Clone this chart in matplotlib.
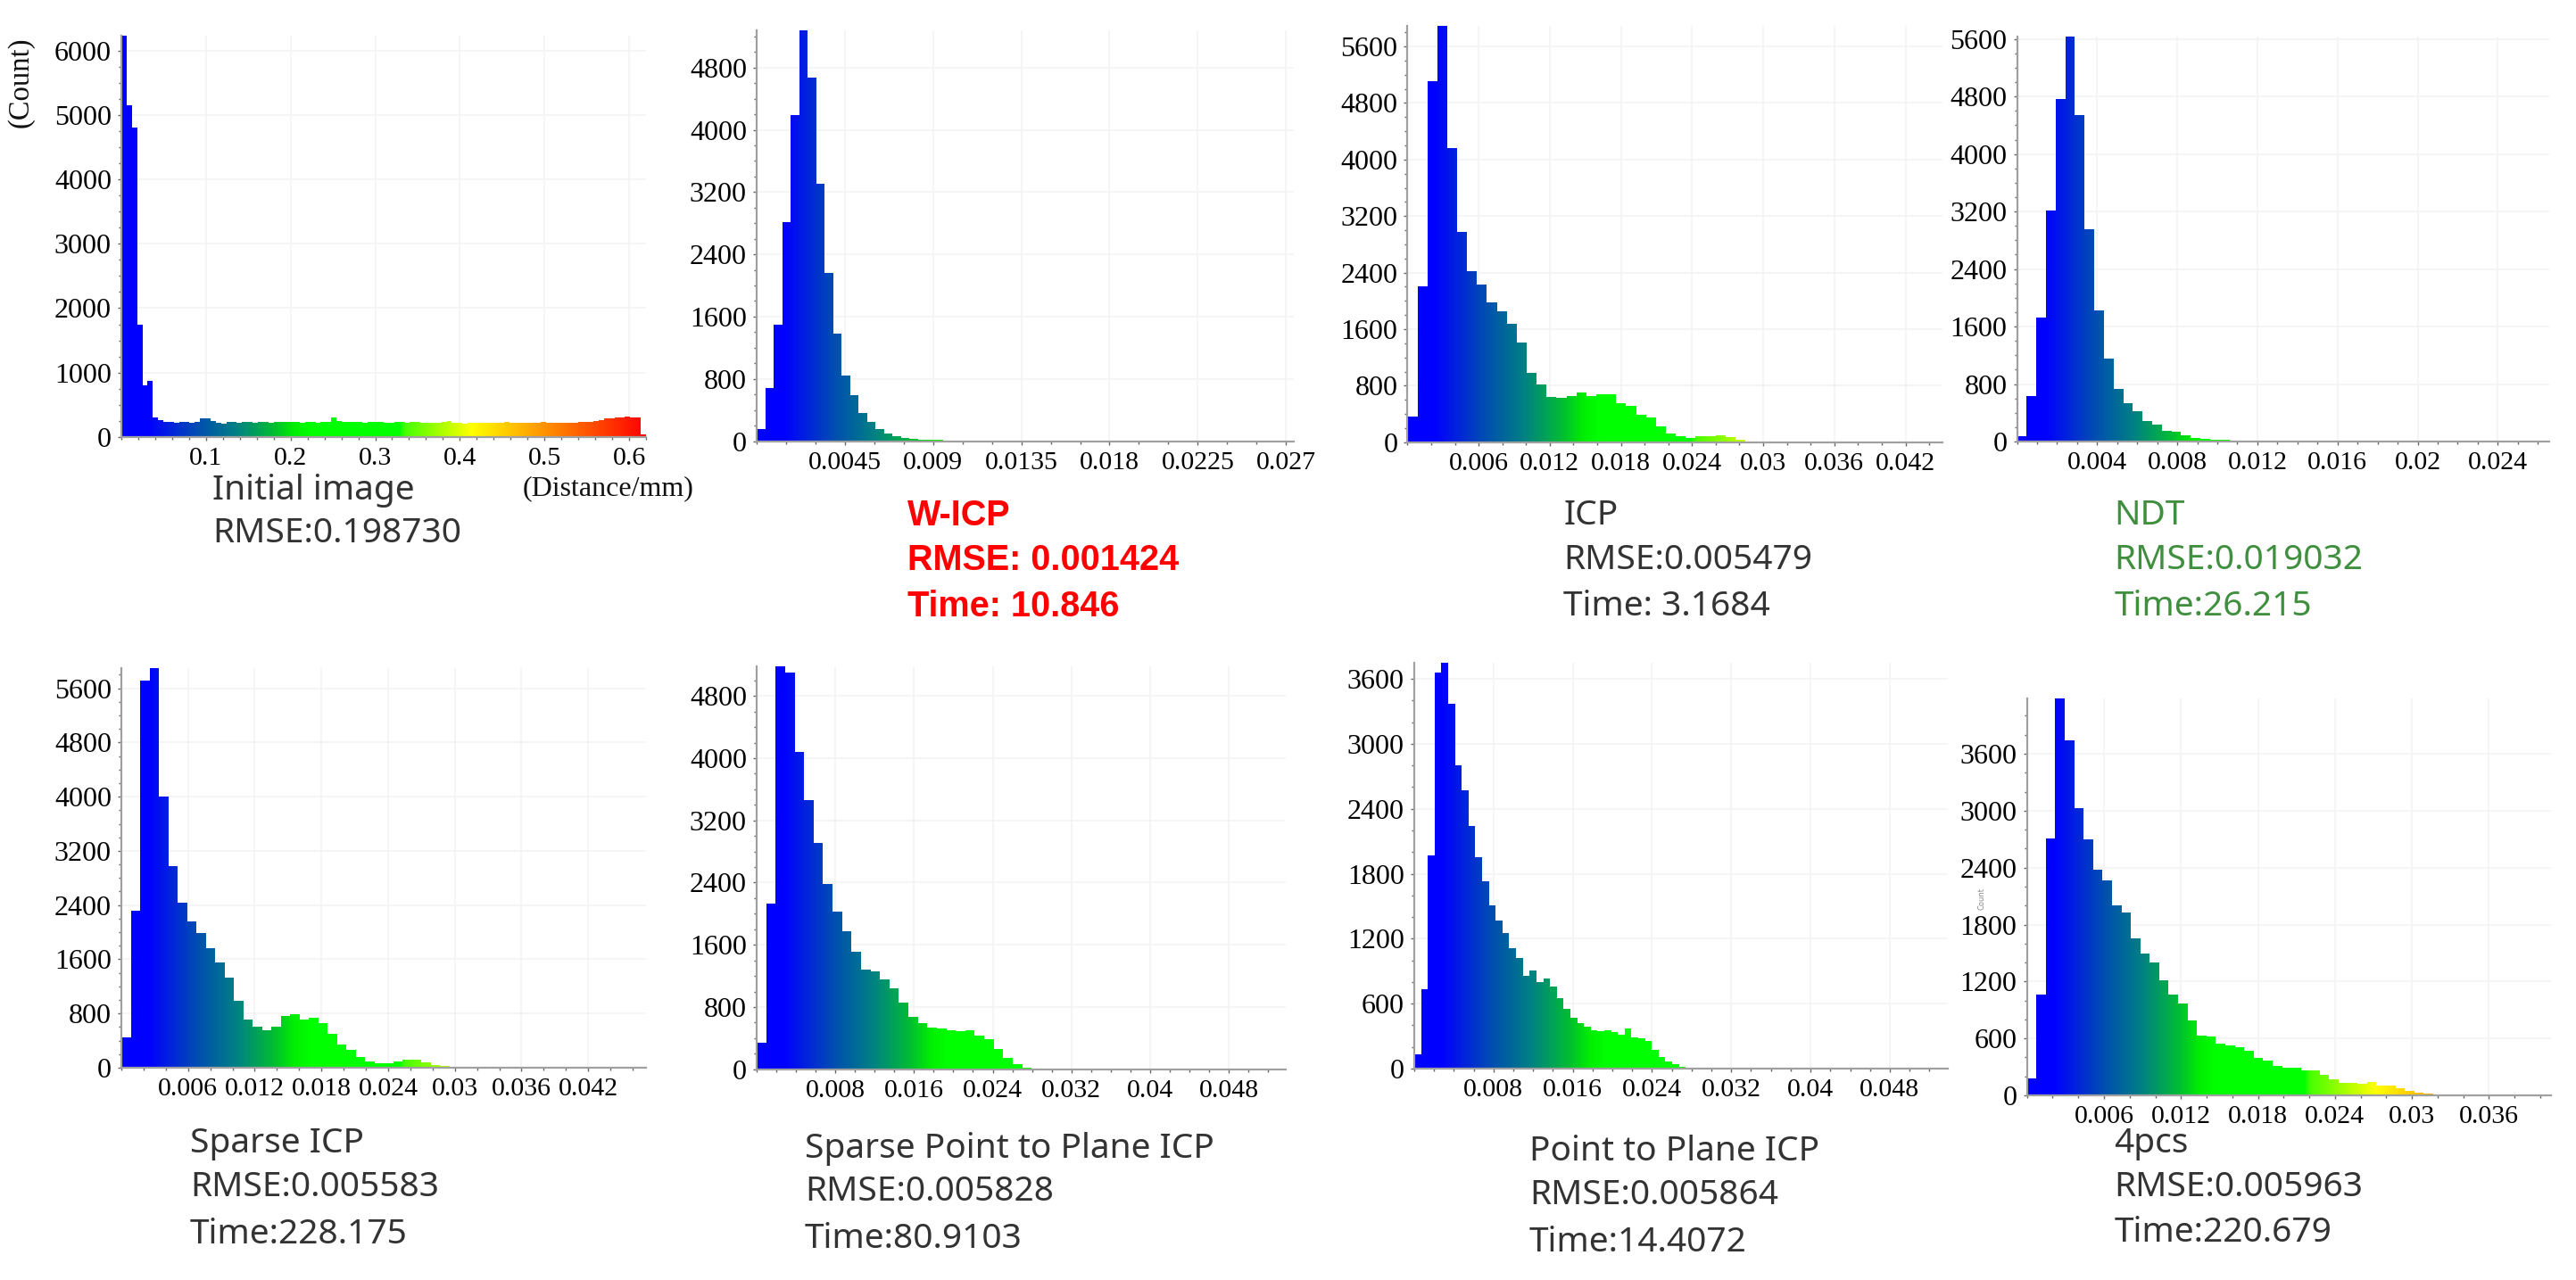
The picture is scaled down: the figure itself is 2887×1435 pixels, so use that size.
import matplotlib
matplotlib.use("Agg")
import numpy as np
import matplotlib.pyplot as plt
from matplotlib.colors import LinearSegmentedColormap
from matplotlib.ticker import AutoMinorLocator

W, H = 2887, 1435

initial_vals = [6225,5150,4800,1750,800,870,310,255,240,235,225,230,235,225,235,290,285,250,225,205,
                230,235,225,235,230,225,235,230,225,240,230,235,230,240,225,230,235,225,230,235,
                310,250,235,240,230,235,225,230,240,235,225,220,235,230,225,235,240,225,215,220,
                225,230,245,225,215,210,220,215,225,220,225,215,225,240,225,220,215,225,220,225,
                235,225,215,220,225,215,225,230,240,235,250,255,285,290,305,310,315,310,300,40]
wicp_vals = [158,684,1500,2816,4195,5284,4668,3305,2158,1384,842,590,363,247,158,100,63,37,25,20,
             16,13,11,9,8,7,6,5,5,4,4,4,3,3,3,3,3,3,3,3,3,3,3,3,3,3,3,3,3,3,3,3,3,3,3,3,3,3,3,3,3,3,3]
icp_vals = [365,2200,5113,5891,4163,2982,2426,2229,1980,1853,1673,1407,984,822,643,631,660,700,660,683,
            683,556,521,394,353,220,127,93,58,87,93,104,70,40,17,8,6,5,4,4,3,3,3,3,3,3,3,3,3,3,3,3,3,3]
ndt_vals = [80,638,1721,3219,4763,5630,4541,2957,1818,1157,729,530,422,285,234,154,131,91,51,40,
            28,23,17,14,12,10,9,8,7,6,6,5,5,4,4,4,3,3,3,3,3,3,3,3,3,3,3,3,3,3,3,3,3,3,3]
sparse_icp_vals = [444,2320,5713,5895,3999,2980,2440,2164,1985,1769,1553,1331,983,707,612,558,612,761,791,707,
                   731,659,498,348,264,162,90,60,60,90,120,114,78,42,24,12,8,6,5,4,4,3,3,3,3,3,3,3,3,3,3,3,3,3,3,3]
sparse_p2p_vals = [340,2128,5176,5098,4078,3461,2912,2384,2029,1778,1511,1281,1255,1156,1041,858,669,591,533,523,
                   507,486,497,429,392,261,146,68,26,8,6,5,4,4,3,3,3,3,3,3,3,3,3,3,3,3,3,3,3,3,3,3,3,3,3,3]
p2p_vals = [132,737,1971,3657,3750,3367,2803,2573,2238,1956,1730,1508,1369,1249,1110,1023,854,907,801,831,
            760,651,553,470,421,391,357,346,357,335,312,372,290,282,256,169,109,64,38,15,
            8,6,5,4,4,3,3,3,3,3,3,3,3,3,3,3,3,3,3,3,3,3,3,3,3,3,3,3,3,3,3,3,3,3,3,3,3,3]
fourpcs_vals = [176,1060,2703,4184,3737,3024,2698,2377,2261,2004,1927,1652,1493,1399,1210,1060,970,785,626,622,
                545,528,506,472,395,369,309,296,296,262,262,215,172,129,133,120,137,103,99,77,
                47,30,17,9,6,5,4,3,3,3,3,3,3,3,3]

panels = [
    dict(vals=initial_vals, bw=0.0062, xmax=0.62, ytop=6225, ymaj=1000, ymin=4, xmin=5,
         xt=[0.1,0.2,0.3,0.4,0.5,0.6], xl=["0.1","0.2","0.3","0.4","0.5","0.6"], box=(136,724,40.4,489.9)),
    dict(vals=wicp_vals, bw=0.000433, xmax=0.0274, ytop=5284, ymaj=800, ymin=4, xmin=3,
         xt=[0.0045,0.009,0.0135,0.018,0.0225,0.027], xl=["0.0045","0.009","0.0135","0.018","0.0225","0.027"], box=(848,1450,33.5,494.5)),
    dict(vals=icp_vals, bw=0.000838, xmax=0.0451, ytop=5891, ymaj=800, ymin=4, xmin=3,
         xt=[0.006,0.012,0.018,0.024,0.03,0.036,0.042], xl=["0.006","0.012","0.018","0.024","0.03","0.036","0.042"], box=(1577.4,2176.7,28.9,495.9)),
    dict(vals=ndt_vals, bw=0.000482, xmax=0.02657, ytop=5630, ymaj=800, ymin=4, xmin=4,
         xt=[0.004,0.008,0.012,0.016,0.02,0.024], xl=["0.004","0.008","0.012","0.016","0.02","0.024"], box=(2260.5,2857,41.3,495)),
    dict(vals=sparse_icp_vals, bw=0.000843, xmax=0.0472, ytop=5895, ymaj=800, ymin=4, xmin=3,
         xt=[0.006,0.012,0.018,0.024,0.03,0.036,0.042], xl=["0.006","0.012","0.018","0.024","0.03","0.036","0.042"], box=(136,724,749.2,1197)),
    dict(vals=sparse_p2p_vals, bw=0.000964, xmax=0.0538, ytop=5176, ymaj=800, ymin=4, xmin=4,
         xt=[0.008,0.016,0.024,0.032,0.04,0.048], xl=["0.008","0.016","0.024","0.032","0.04","0.048"], box=(848,1441,747.4,1198.8)),
    dict(vals=p2p_vals, bw=0.000685, xmax=0.05386, ytop=3750, ymaj=600, ymin=3, xmin=4,
         xt=[0.008,0.016,0.024,0.032,0.04,0.048], xl=["0.008","0.016","0.024","0.032","0.04","0.048"], box=(1585,2183,742.8,1198)),
    dict(vals=fourpcs_vals, bw=0.000736, xmax=0.0408, ytop=4184, ymaj=600, ymin=3, xmin=3,
         xt=[0.006,0.012,0.018,0.024,0.03,0.036], xl=["0.006","0.012","0.018","0.024","0.03","0.036"], box=(2271.7,2858.5,782.9,1228)),
]

INK = "#333333"
captions = [
    (238, [(549.6,"Initial image"),(598.3,"RMSE:0.198730")], INK, "normal"),
    (1017,[(577.6,"W-ICP"),(628.1,"RMSE: 0.001424"),(679.5,"Time: 10.846")], "#ff0000", "bold"),
    (1752.4,[(577.6,"ICP"),(628.1,"RMSE:0.005479"),(679.5,"Time: 3.1684")], INK, "normal"),
    (2369.2,[(577.6,"NDT"),(628.1,"RMSE:0.019032"),(679.5,"Time:26.215")], "#3f8f3f", "normal"),
    (213, [(1281.8,"Sparse ICP"),(1331,"RMSE:0.005583"),(1383.5,"Time:228.175")], INK, "normal"),
    (902, [(1287.7,"Sparse Point to Plane ICP"),(1336.5,"RMSE:0.005828"),(1389,"Time:80.9103")], INK, "normal"),
    (1713.9,[(1290.9,"Point to Plane ICP"),(1340.2,"RMSE:0.005864"),(1392.6,"Time:14.4072")], INK, "normal"),
    (2369.2,[(1281.8,"4pcs"),(1331,"RMSE:0.005963"),(1382.1,"Time:220.679")], INK, "normal"),
]

def rgb(r, g, b):
    return (r/255, g/255, b/255)

cmap = LinearSegmentedColormap.from_list("dist", [
    (0.0,rgb(0,0,255)),(0.05,rgb(0,0,255)),(0.147,rgb(0,80,175)),(0.22,rgb(0,130,130)),(0.29,rgb(0,190,50)),
    (0.33,rgb(0,240,0)),(0.36,rgb(0,255,0)),(0.53,rgb(0,255,0)),(0.54,rgb(70,255,0)),(0.667,rgb(255,255,0)),
    (0.83,rgb(255,128,0)),(1.0,rgb(255,0,0))])

SERIF = "Liberation Serif"
SANS = "Noto Sans"
fig = plt.figure(figsize=(W/100, H/100), dpi=100, facecolor="white")

for p in panels:
    l, r, t, b = p["box"]
    ax = fig.add_axes([l/W, 1-b/H, (r-l)/W, (b-t)/H])
    vals = np.array(p["vals"], float)
    edges = np.arange(len(vals)+1)*p["bw"]
    centers = (edges[:-1]+edges[1:])/2
    ax.bar(centers, vals, width=p["bw"], color=cmap(centers/p["xmax"]), linewidth=0, zorder=2)
    st = ax.stairs(vals, edges, fill=True, facecolor="none", edgecolor="none", zorder=1)
    grad = np.linspace(0, 1, 512).reshape(1, -1)
    im = ax.imshow(grad, extent=[0, p["xmax"], 0, p["ytop"]], aspect="auto", cmap=cmap, vmin=0, vmax=1, zorder=2.5, origin="lower")
    im.set_clip_path(st)
    ax.set_xlim(0, p["xmax"])
    ax.set_ylim(0, p["ytop"])
    ax.set_yticks(np.arange(0, p["ytop"]+1, p["ymaj"]))
    ax.set_xticks(p["xt"])
    ax.set_xticklabels(p["xl"])
    ax.yaxis.set_minor_locator(AutoMinorLocator(p["ymin"]))
    ax.xaxis.set_minor_locator(AutoMinorLocator(p["xmin"]))
    ax.grid(True, which="major", color="#f3f3f3", linewidth=1.2, zorder=0)
    ax.set_axisbelow(True)
    for s in ("top","right"):
        ax.spines[s].set_visible(False)
    for s in ("left","bottom"):
        ax.spines[s].set_color("#a0a0a0")
        ax.spines[s].set_linewidth(1.6)
    ax.tick_params(which="major", axis="both", length=3, width=1, color="#666666", direction="out")
    ax.tick_params(which="minor", axis="both", length=2.5, width=1, color="#666666", direction="out")
    ax.tick_params(axis="y", labelsize=23, pad=5, labelfontfamily=SERIF)
    ax.tick_params(axis="x", labelsize=21.5, pad=5, labelfontfamily=SERIF)
    ax.patch.set_alpha(0)

for x, lines, color, weight in captions:
    fam = "Liberation Sans" if weight == "bold" else SANS
    size = 28.5 if weight == "bold" else 28
    for y, s in lines:
        fig.text(x/W, 1-y/H, s, family=fam, fontsize=size, color=color, weight=weight, ha="left", va="center")

fig.text(23/W, 1-92/H, "(Count)", family=SERIF, fontsize=23.5, rotation=90, ha="center", va="center", color="#111111")
fig.text(682/W, 1-548/H, "(Distance/mm)", family=SERIF, fontsize=23, ha="center", va="center", color="#111111")
fig.text(2221/W, 1-1008/H, "Count", family="DejaVu Sans", fontsize=6, rotation=90, ha="center", va="center", color="#888888")
fig.savefig("out.png", dpi=100, facecolor="white")
